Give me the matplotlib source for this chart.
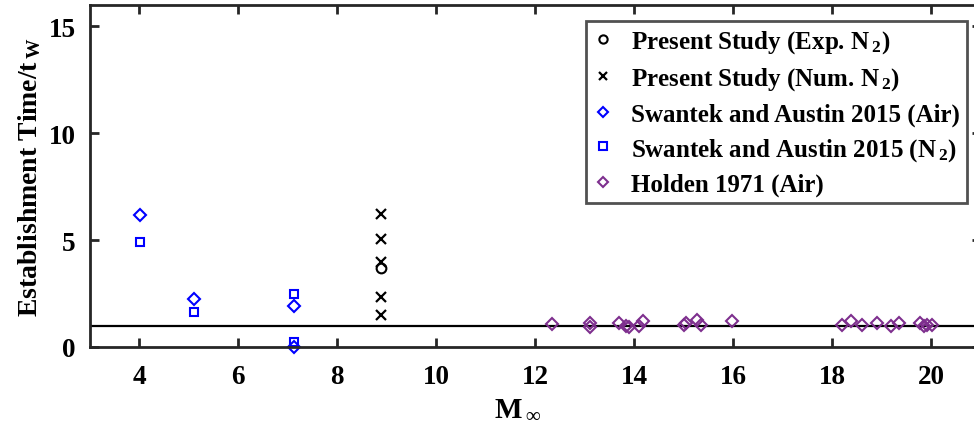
import matplotlib
matplotlib.use('Agg')
import matplotlib.pyplot as plt

# data
exp_x = [8.89]
exp_y = [3.68]

num_x = [8.89, 8.89, 8.89, 8.89, 8.89]
num_y = [6.22, 5.05, 3.96, 2.36, 1.50]

sw_air_x = [4.02, 5.12, 7.13, 7.13]
sw_air_y = [6.18, 2.25, 1.93, -0.01]

sw_n2_x = [4.02, 5.12, 7.13, 7.13]
sw_n2_y = [4.93, 1.65, 2.48, 0.22]

holden_x = [12.35, 13.11, 13.11, 13.70, 13.83, 13.89, 14.11, 14.18, 15.01, 15.05,
            15.27, 15.36, 15.97, 18.20, 18.39, 18.61, 18.91, 19.20, 19.36, 19.78,
            19.85, 19.92, 20.03]
holden_y = [1.07, 1.10, 0.95, 1.12, 1.00, 0.92, 1.00, 1.22, 1.05, 1.14,
            1.28, 1.05, 1.22, 1.05, 1.22, 1.05, 1.10, 1.00, 1.10, 1.10,
            1.00, 1.05, 1.05]

labels = [r'Present Study (Exp. N$_{\,2}$)', r'Present Study (Num. N$_{\,2}$)',
          'Swantek and Austin 2015 (Air)', r'Swantek and Austin 2015 (N$_{\,2}$)',
          'Holden 1971 (Air)']

plt.rcParams['font.family'] = ['Liberation Serif', 'DejaVu Serif']
plt.rcParams['font.weight'] = 'bold'
plt.rcParams['mathtext.default'] = 'regular'

ax_col = '#262626'
purple = '#7E2F8E'

fig = plt.figure(figsize=(9.74, 4.35), dpi=100)
ax = fig.add_axes([89.5/974, 87/435, 891/974, 342/435])

ax.axhline(1, color='black', lw=1.6, zorder=1)

ax.plot(exp_x, exp_y, 'o', ls='none', mfc='none', mec='black', ms=7, mew=1.5, label=labels[0])
ax.plot(num_x, num_y, 'x', ls='none', color='black', ms=6.5, mew=1.6, label=labels[1])
ax.plot(sw_air_x, sw_air_y, 'D', ls='none', mfc='none', mec='blue', ms=6.3, mew=1.5,
        label=labels[2], clip_on=False)
ax.plot(sw_n2_x, sw_n2_y, 's', ls='none', mfc='none', mec='blue', ms=6, mew=1.5,
        label=labels[3], clip_on=False)
ax.plot(holden_x, holden_y, 'D', ls='none', mfc='none', mec=purple, ms=6.3, mew=1.5,
        label=labels[4])

ax.set_xlim(3, 21)
ax.set_ylim(0, 16)
ax.set_xticks(range(4, 21, 2))
ax.set_yticks([0, 5, 10, 15])

for s in ax.spines.values():
    s.set_linewidth(2)
    s.set_color(ax_col)
ax.tick_params(direction='in', length=6.5, width=2, top=True, right=True,
               labelsize=19.5, colors=ax_col, pad=10)
ax.tick_params(axis='x', pad=12)
for t in ax.get_xticklabels() + ax.get_yticklabels():
    t.set_color('black')
    t.set_fontweight('bold')

ax.set_xlabel(r'M$_{\,\infty}$', fontsize=21, fontweight='bold')
ax.xaxis.set_label_coords(0.48, -0.14)
ax.set_ylabel(r'Establishment Time/t$_{\,W}$', fontsize=20, fontweight='bold', labelpad=4)

leg = ax.legend(loc='upper right', bbox_to_anchor=(0.985, 0.953), borderaxespad=0,
                fontsize=18, frameon=True, fancybox=False, handlelength=0.8,
                handletextpad=0.7, labelspacing=0.4, borderpad=0.3, markerscale=0.85)
leg.get_frame().set_edgecolor(ax_col)
leg.get_frame().set_linewidth(2)
for t in leg.get_texts():
    t.set_fontweight('bold')

fig.savefig('out.png', dpi=100)
